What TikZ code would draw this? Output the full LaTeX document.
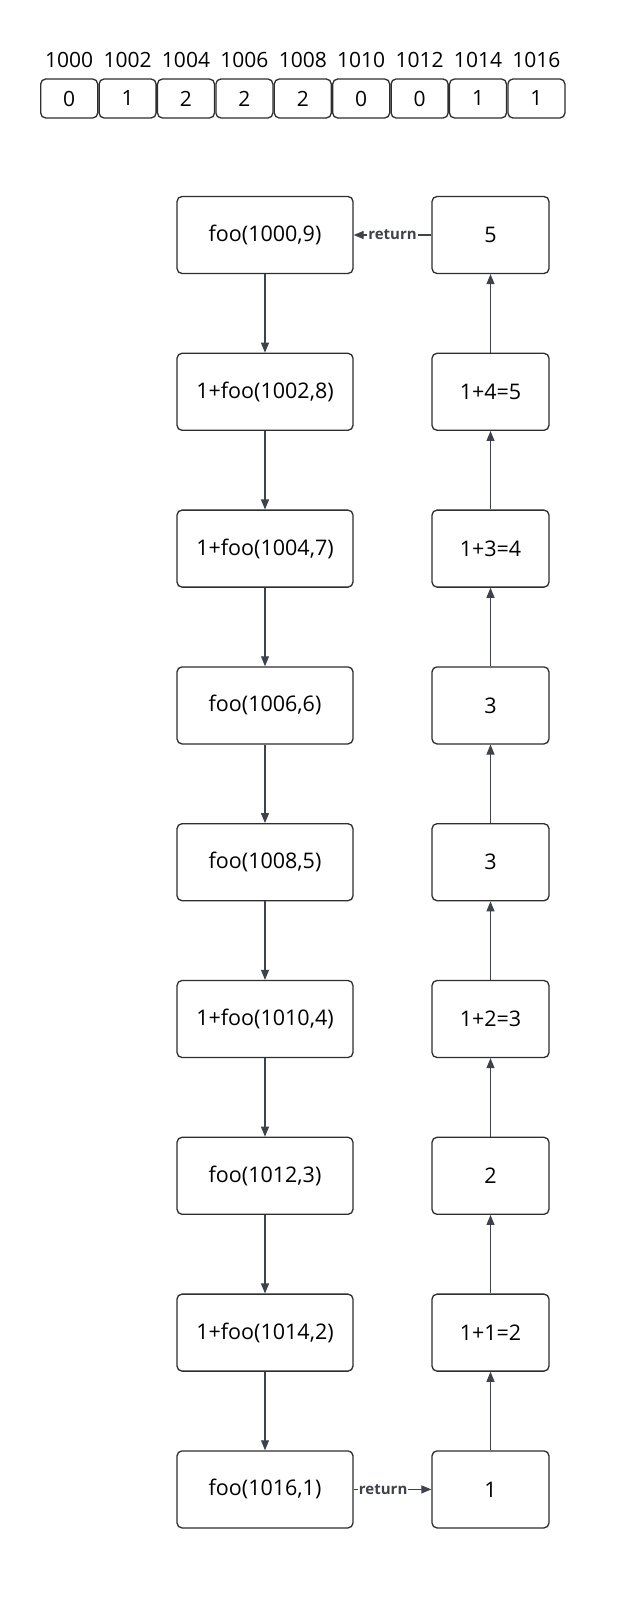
\documentclass[tikz,border=0pt]{standalone}
\usepackage{fontspec}
\setmainfont{Open Sans}
\usetikzlibrary{arrows.meta}
\definecolor{edge}{HTML}{2E2E2E}
\definecolor{arr}{HTML}{3E424A}
\tikzset{
  box/.style={draw=edge, line width=1.3pt, rounded corners=5pt, minimum width=176pt, minimum height=77pt, font=\fontsize{21.5}{24}\selectfont, inner sep=0pt},
  rbox/.style={box, minimum width=117pt},
  cell/.style={draw=edge, line width=1.3pt, rounded corners=5pt, minimum width=57pt, minimum height=39pt, font=\fontsize{21}{24}\selectfont, inner sep=0pt},
  addr/.style={font=\fontsize{21}{24}\selectfont, inner sep=0pt},
  link/.style={draw=arr, line width=1.1pt, -{Triangle[length=10pt,width=8pt]}},
  retlabel/.style={fill=white, font=\bfseries\fontsize{15}{17}\selectfont, text=arr, inner sep=1pt}
}
\begin{document}
\begin{tikzpicture}[x=1pt,y=-1pt]
\useasboundingbox[fill=white] (0,0) rectangle (620,1600);
% array
\foreach \a/\v [count=\i from 0] in {1000/0,1002/1,1004/2,1006/2,1008/2,1010/0,1012/0,1014/1,1016/1}{
  \node[cell] (c\i) at ({40+58.4*(\i+0.5)},98.5) {\v};
  \node[addr] (a\i) at ({40+58.4*(\i+0.5)},60) {\a};
}
% left column
\foreach \t [count=\i from 0] in {foo(1000{,}9),1+foo(1002{,}8),1+foo(1004{,}7),foo(1006{,}6),foo(1008{,}5),1+foo(1010{,}4),foo(1012{,}3),1+foo(1014{,}2),foo(1016{,}1)}{
  \node[box] (l\i) at (265,{235+156.8*\i}) {\t};
}
% right column
\foreach \t [count=\i from 0] in {5,1+4=5,1+3=4,3,3,1+2=3,2,1+1=2,1}{
  \node[rbox] (r\i) at (490.5,{235+156.8*\i}) {\t};
}
\foreach \i [evaluate=\i as \j using int(\i+1)] in {0,...,7}{
  \draw[link] (l\i) -- (l\j);
  \draw[link] (r\j) -- (r\i);
}
\draw[link] (r0) -- node[retlabel, pos=0.5]{return} (l0);
\draw[link] (l8) -- node[retlabel, pos=0.38]{return} (r8);
\end{tikzpicture}
\end{document}
